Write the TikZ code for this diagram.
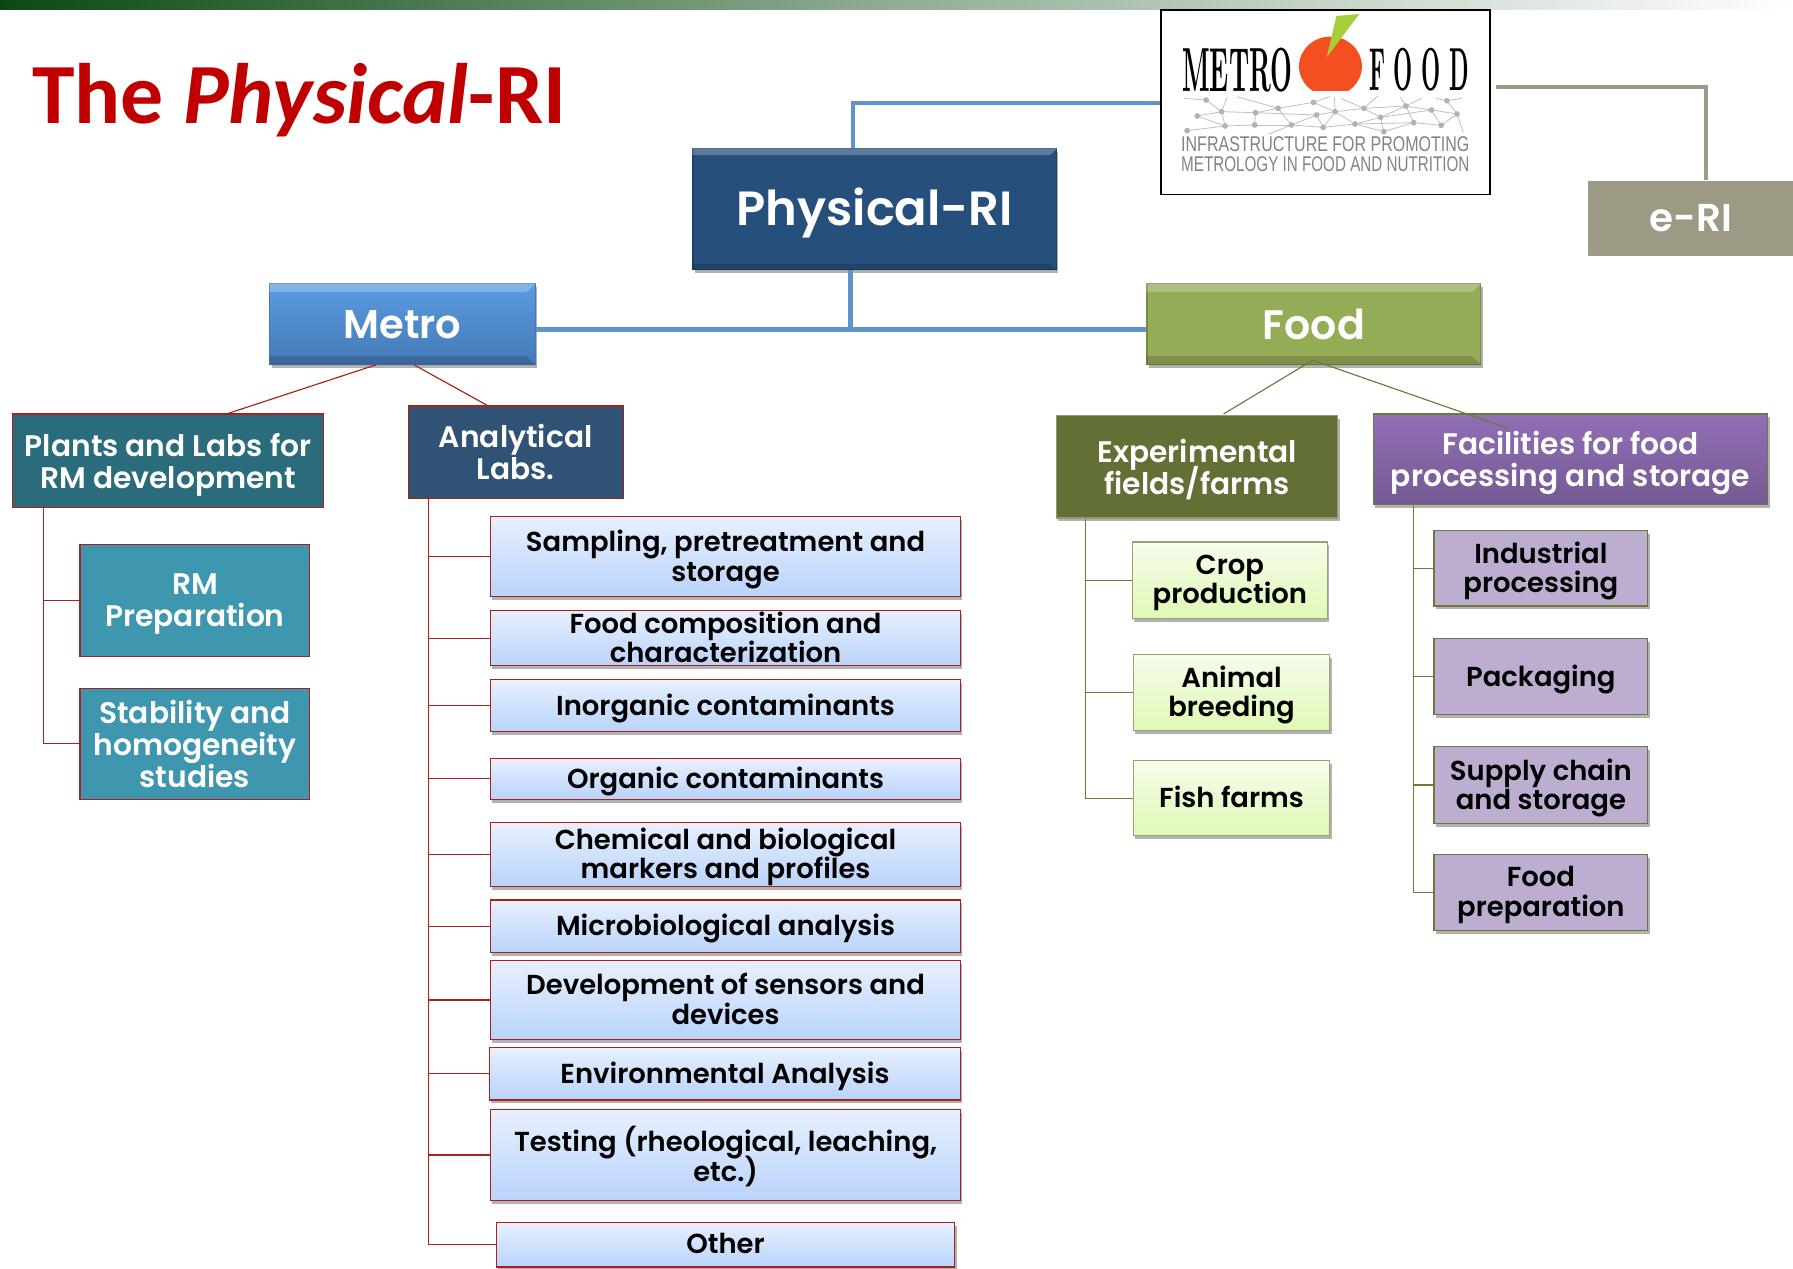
\documentclass[tikz,border=0pt]{standalone}
\usepackage{fontspec}
\usepackage{graphicx}
\usetikzlibrary{shadows}
\setmainfont{Poppins}[BoldFont={Poppins SemiBold}]
\newfontfamily\titlefont{Carlito}
\newfontfamily\logoserif{Latin Modern Roman}
\newfontfamily\logosans{Liberation Sans}
\normallineskiplimit=-100pt
\lineskiplimit=-100pt
\definecolor{redline}{HTML}{A8211A}
\definecolor{oliveline}{HTML}{6B7A3A}
\definecolor{blueline}{HTML}{5F93C9}
\definecolor{greyline}{HTML}{9C9A85}
\definecolor{labtop}{HTML}{E8F0FE}
\definecolor{labbot}{HTML}{B9D3FB}
\definecolor{croptop}{HTML}{F6FCEA}
\definecolor{cropbot}{HTML}{DFF9B6}
\definecolor{purpfill}{HTML}{BDADD0}
\definecolor{titlered}{HTML}{C00000}
\definecolor{barleft}{HTML}{0A4A12}
\definecolor{physfill}{HTML}{264F7C}
\definecolor{metroa}{HTML}{5B9CE0}
\definecolor{metrob}{HTML}{4379B5}
\definecolor{foodfill}{HTML}{94AC55}
\definecolor{teald}{HTML}{2A6B7C}
\definecolor{navy}{HTML}{305274}
\definecolor{teall}{HTML}{3E97AE}
\definecolor{expg}{HTML}{626F35}
\definecolor{faca}{HTML}{916EB6}
\definecolor{facb}{HTML}{745A92}
\definecolor{apple}{HTML}{F44F20}
\definecolor{leaf}{HTML}{A6CE39}
\definecolor{logogrey}{HTML}{7F8488}
\newcommand\bx[7]{\node[#6,minimum width={(#4-#2)*1pt},minimum height={(#5-#3)*1pt}] (#1) at ({(#2+#4)/2},{(#3+#5)/2}) {#7};}
\newcommand\bevel[2]{%
 \fill[white,opacity=.25] (#1.north west)--(#1.north east)--++(-#2,#2)-|cycle;
 \fill[black,opacity=.15] (#1.south west)--(#1.south east)--++(-#2,-#2)-|cycle;
}
\tikzset{
 boxbase/.style={rectangle,inner sep=0pt,align=center,line width=1pt,text depth=0pt},
 shadowed/.style={drop shadow={shadow xshift=1.5pt,shadow yshift=-3pt,opacity=.3,fill=black}},
 whitetxt/.style={text=white,font=\bfseries\fontsize{26}{28}\selectfont},
 blacktxt/.style={text=black,text depth=2pt,font=\bfseries\fontsize{24}{25.5}\selectfont},
 topbox/.style={boxbase,shadowed,whitetxt},
 labbox/.style={boxbase,shadowed,blacktxt,draw=redline,top color=labtop,bottom color=labbot},
 cropbox/.style={boxbase,shadowed,blacktxt,draw=oliveline!70!white,top color=croptop,bottom color=cropbot},
 purpbox/.style={boxbase,shadowed,blacktxt,draw=oliveline,fill=purpfill},
 tealbox/.style={boxbase,whitetxt,draw=redline},
 redtree/.style={draw=redline,line width=1pt},
 olivetree/.style={draw=oliveline,line width=1pt},
 thickblue/.style={draw=blueline,line width=4pt},
 thickgrey/.style={draw=greyline,line width=4pt},
 netline/.style={draw=black!25,line width=.7pt},
 netdot/.style={fill=black!30},
}
\begin{document}
\begin{tikzpicture}[x=1pt,y=-1pt]
\useasboundingbox (0,0) rectangle (1568,1109);
\fill[left color=barleft,right color=white,middle color=barleft!45!white] (0,0) rectangle (1568,8);
% title
\node[anchor=west,inner sep=0pt,text=titlered,font=\titlefont\bfseries\fontsize{75}{75}\selectfont] (title) at (28,88) {The \textit{Physical}-RI};
% junctions
\coordinate (j1) at (744,288);
\coordinate (j2) at (746,90);
\coordinate (j3) at (1492,76);
\coordinate (e0) at (1308,76);
\coordinate (m1) at (329,319);
\coordinate (m2) at (198,362);
\coordinate (m3) at (362,319);
\coordinate (m4) at (427,355);
\coordinate (f1) at (1148,315);
\coordinate (f2) at (1070,362);
\coordinate (f3) at (1320,375);
\coordinate (tp) at (38,0);
\coordinate (ta) at (375,0);
\coordinate (te) at (949,0);
\coordinate (tf) at (1236,0);
% logo box
\node[draw=black,line width=1.5pt,fill=white,minimum width=288pt,minimum height=161pt,inner sep=0pt] (logo) at (1159,89.5) {};
% top connectors
\draw[thickblue] (logo.west |- j2) -- (j2) -- (j2 |- 0,135);
\bx{phys}{606}{130}{924}{236}{topbox,text depth=4pt,fill=physfill,draw=physfill!80!black,font=\bfseries\fontsize{42}{42}\selectfont}{Physical-RI}
\bx{metro}{236}{248}{468}{319}{topbox,top color=metroa,bottom color=metrob,draw=metrob,font=\bfseries\fontsize{35}{35}\selectfont}{Metro}
\bx{food}{1003}{248}{1295}{319}{topbox,fill=foodfill,draw=foodfill!80!black,font=\bfseries\fontsize{36}{36}\selectfont}{Food}
\bx{eri}{1389}{158}{1568}{224}{boxbase,fill=greyline,text=white,font=\bfseries\fontsize{34}{34}\selectfont}{e-RI}
\bevel{phys}{6}
\bevel{metro}{8}
\bevel{food}{8}
\draw[thickblue] (j1 |- phys.south) -- (j1);
\draw[thickblue] (metro.east |- j1) -- (food.west |- j1);
\draw[thickgrey] (e0) -- (j3) -- (j3 |- eri.north);
% level 2
\bx{plants}{11}{362}{283}{444}{tealbox,fill=teald}{Plants and Labs for\\RM development}
\bx{anal}{357}{355}{545}{436}{tealbox,fill=navy}{Analytical\\Labs.}
\bx{rm}{70}{476}{271}{574}{tealbox,fill=teall}{RM\\Preparation}
\bx{stab}{70}{602}{271}{699}{tealbox,fill=teall}{Stability and\\homogeneity\\studies}
\bx{exp}{924}{363}{1170}{453}{boxbase,shadowed,whitetxt,fill=expg,draw=expg!70!white}{Experimental\\fields/farms}
\bx{fac}{1201}{362}{1546}{441}{topbox,top color=faca,bottom color=facb,draw=oliveline}{Facilities for food\\processing and storage}
% lab boxes
\bx{l1}{429}{452}{840}{522}{labbox}{Sampling, pretreatment and\\storage}
\bx{l2}{429}{534}{840}{582}{labbox}{Food composition and\\characterization}
\bx{l3}{429}{594}{840}{640}{labbox}{Inorganic contaminants}
\bx{l4}{429}{663}{840}{699}{labbox}{Organic contaminants}
\bx{l5}{429}{719}{840}{775}{labbox}{Chemical and biological\\markers and profiles}
\bx{l6}{429}{787}{840}{833}{labbox}{Microbiological analysis}
\bx{l7}{429}{840}{840}{909}{labbox}{Development of sensors and\\devices}
\bx{l8}{428}{916}{840}{962}{labbox}{Environmental Analysis}
\bx{l9}{429}{970}{840}{1050}{labbox}{Testing (rheological, leaching,\\etc.)}
\bx{l10}{434}{1069}{835}{1108}{labbox}{Other}
% food boxes
\bx{c1}{990}{474}{1161}{541}{cropbox}{Crop\\production}
\bx{c2}{991}{572}{1163}{639}{cropbox}{Animal\\breeding}
\bx{c3}{991}{665}{1163}{731}{cropbox}{Fish farms}
\bx{p1}{1254}{464}{1441}{530}{purpbox}{Industrial\\processing}
\bx{p2}{1254}{558}{1441}{625}{purpbox}{Packaging}
\bx{p3}{1254}{653}{1441}{720}{purpbox}{Supply chain\\and storage}
\bx{p4}{1254}{747}{1441}{814}{purpbox}{Food\\preparation}
% thin connectors
\draw[redtree] (m1) -- (m2);
\draw[redtree] (m3) -- (m4);
\draw[olivetree] (f1) -- (f2);
\draw[olivetree] (f1) -- (f3);
\draw[redtree] (tp |- plants.south) -- (tp |- stab.west) -- (stab.west);
\draw[redtree] (tp |- rm.west) -- (rm.west);
\draw[redtree] (ta |- anal.south) -- (ta |- l10.west) -- (l10.west);
\foreach \n in {l1,l2,l3,l4,l5,l6,l7,l8,l9} \draw[redtree] (ta |- \n.west) -- (\n.west);
\draw[olivetree] (te |- exp.south) -- (te |- c3.west) -- (c3.west);
\foreach \n in {c1,c2} \draw[olivetree] (te |- \n.west) -- (\n.west);
\draw[olivetree] (tf |- fac.south) -- (tf |- p4.west) -- (p4.west);
\foreach \n in {p1,p2,p3} \draw[olivetree] (tf |- \n.west) -- (\n.west);
% logo contents
\begin{scope}[shift={(962,0)},x=0.3864pt,y=-0.2915pt]
 \foreach \xa/\ya/\xb/\yb in {190/295/240/300,240/300/275/335,288/290/275/335,275/335/283/378,220/348/275/335,220/348/283/378,197/392/283/378,283/378/350/375,350/375/433/375,433/375/505/382,310/290/403/325,352/338/403/325,275/335/352/338,352/338/350/375,403/325/483/307,403/325/433/375,483/307/520/290,483/307/532/335,490/345/532/335,490/345/433/375,352/338/490/345,490/345/505/382,532/335/505/382,532/335/577/372,505/382/577/372,530/290/532/335,532/335/597/325,545/295/597/325,597/325/628/288,597/325/692/318,597/325/635/352,577/372/635/352,635/352/692/318,635/352/642/395,577/372/642/395,642/395/710/368,577/372/710/368,692/318/728/295,692/318/680/292,692/318/750/330,692/318/710/368,635/352/750/330,750/330/808/342,750/330/772/376,710/368/772/376,772/376/808/342,785/302/808/342,760/295/785/302,785/302/820/295,808/342/822/398,382/402/433/375}
  \draw[netline] (\xa,\ya) -- (\xb,\yb);
 \foreach \xa/\ya in {240/300,275/335,220/348,197/392,283/378,352/338,350/375,403/325,433/375,483/307,490/345,505/382,532/335,577/372,597/325,635/352,642/395,692/318,710/368,750/330,772/376,785/302,808/342}
  \fill[netdot] (\xa,\ya) circle[x=1pt,y=1pt,radius=2.5pt];
\end{scope}
\begin{scope}
 \clip (1130,20) rectangle (1195,79);
 \fill[apple] (1163.5,58) ellipse [x radius=27.5pt,y radius=26pt];
\end{scope}
\fill[leaf] (1168.7,14) -- (1188.8,12.2) -- (1160.2,50.1) -- cycle;
\node[inner sep=0pt] (lm) at (1082,61) {\resizebox{96pt}{38pt}{\logoserif\bfseries METRO}};
\node[inner sep=0pt] (lf) at (1241,61) {\resizebox{87pt}{37pt}{\logoserif\bfseries F O O D}};
\node[inner sep=0pt,text=logogrey] (l1t) at (1159,126) {\resizebox{252pt}{13pt}{\logosans INFRASTRUCTURE FOR PROMOTING}};
\node[inner sep=0pt,text=logogrey] (l2t) at (1159,144) {\resizebox{252pt}{13pt}{\logosans METROLOGY IN FOOD AND NUTRITION}};
\end{tikzpicture}
\end{document}
